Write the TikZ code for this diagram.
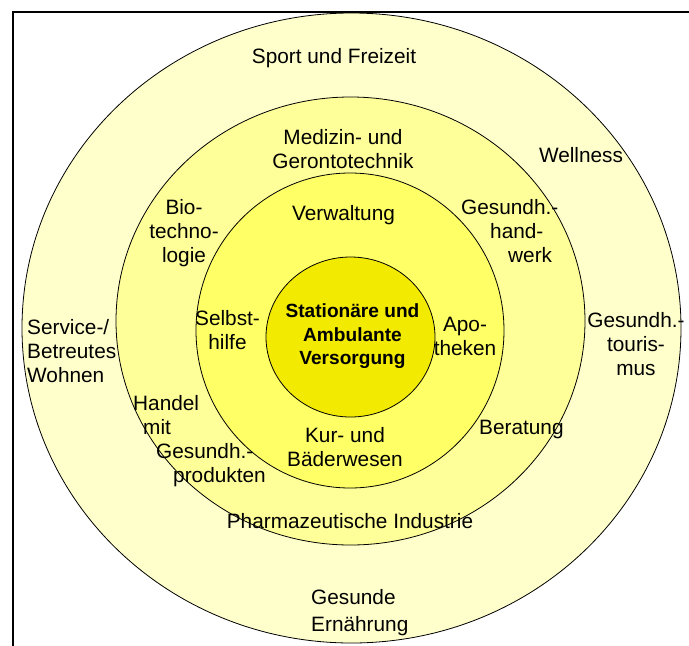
\documentclass[tikz,border=0pt]{standalone}
\usepackage{fontspec}
\setmainfont{Liberation Sans}
\definecolor{ringOuter}{HTML}{FFFFCC}
\definecolor{ringThird}{HTML}{FFFF99}
\definecolor{ringSecond}{HTML}{FFFF66}
\definecolor{ringCore}{HTML}{F2EA00}

\begin{document}
\begin{tikzpicture}[x=1pt,y=-1pt,
  ring/.style={draw=black,line width=.8pt},
  lbl/.style={inner sep=0pt,align=center,font=\fontsize{20.8}{24}\selectfont},
  lbll/.style={lbl,align=left},
  corelbl/.style={inner sep=0pt,align=center,font=\bfseries\fontsize{19.1}{23.5}\selectfont}]
	\useasboundingbox (0,0) rectangle (689,646);

	%rings
	\filldraw[ring,fill=ringOuter] (351.5,328) ellipse [x radius=329.5, y radius=315];
	\filldraw[ring,fill=ringThird] (350.5,321) ellipse [x radius=234.5, y radius=224];
	\filldraw[ring,fill=ringSecond] (350,330.5) ellipse [x radius=154, y radius=157.5];
	\filldraw[ring,fill=ringCore] (350.5,337) ellipse [x radius=84.5, y radius=80];

	%frame
	\draw[line width=2pt] (13,646) -- (13,12) -- (689,12);

	%outer ring
	\node[lbl,anchor=base] (sport) at (334,63) {Sport und Freizeit};
	\node[lbl,anchor=base] (well) at (581,162) {Wellness};
	\node[lbll,anchor=west] (serv) at (27,351.5) {Service-/\\Betreutes\\Wohnen};
	\node[lbl] (tour) at (636,344.5) {Gesundh.-\\touris-\\mus};
	\node[lbll,anchor=west] (ern) at (311,613) {Gesunde\\[3pt]Ernährung};

	%third ring
	\node[lbl] (medi) at (343,149) {Medizin- und\\Gerontotechnik};
	\node[lbl] (bio) at (184,232.7) {Bio-\\techno-\\logie};
	\node[lbll,anchor=west] (handw) at (461,231) {Gesundh.-\\\hspace*{29pt}hand-\\\hspace*{47pt}werk};
	\node[lbll,anchor=west] (handel) at (133,441) {Handel\\\hspace*{10pt}mit\\\hspace*{23pt}Gesundh.-\\\hspace*{40pt}produkten};
	\node[lbl,anchor=base west] (berat) at (479,434) {Beratung};
	\node[lbl,anchor=base] (pharma) at (350,528) {Pharmazeutische Industrie};

	%second ring
	\node[lbl,anchor=base] (verw) at (343.5,220) {Verwaltung};
	\node[lbl] (selbst) at (227.5,330) {Selbst-\\hilfe};
	\node[lbl] (apo) at (465,336) {Apo-\\theken};
	\node[lbl] (kur) at (345,447.5) {Kur- und\\Bäderwesen};

	%core
	\node[corelbl] (stat) at (352.5,336.5) {Stationäre und\\Ambulante\\Versorgung};
\end{tikzpicture}
\end{document}
